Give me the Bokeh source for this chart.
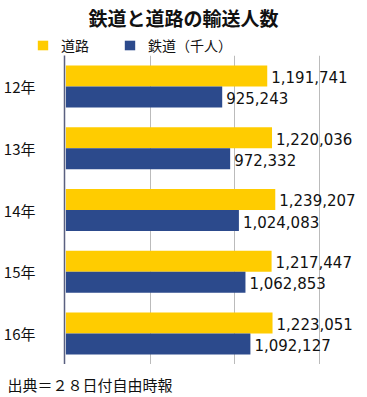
from bokeh.plotting import figure
from bokeh.layouts import column
from bokeh.models import (ColumnDataSource, FactorRange, Range1d, FixedTicker, Label,
                          Legend, LegendItem)
from bokeh.transform import dodge
from bokeh.core.properties import value
from bokeh.embed import file_html
from bokeh.resources import INLINE

years = ["12年", "13年", "14年", "15年", "16年"]
road = [1191741, 1220036, 1239207, 1217447, 1223051]
rail = [925243, 972332, 1024083, 1062853, 1092127]
road_label = "道路"
rail_label = "鉄道（千人）"
title_text = "鉄道と道路の輸送人数"
source_text = "出典＝２８日付自由時報"
grid_ticks = [500000, 1000000, 1500000]

FONT = "Noto Sans CJK JP"
NUMFONT = "DejaVu Sans"
YELLOW = "#FFCC00"
BLUE = "#2C4A8C"
W = 367


def blank(h):
    f = figure(width=W, height=h, output_backend="svg", toolbar_location=None,
               x_range=Range1d(0, W), y_range=Range1d(0, h),
               x_axis_location=None, y_axis_location=None,
               min_border_left=0, min_border_right=0, min_border_top=0, min_border_bottom=0)
    f.grid.visible = False
    f.outline_line_color = None
    return f


# header: title + legend
hdr = blank(55)
hdr.add_layout(Label(x=183, y=38, x_units="screen", y_units="screen", text=title_text,
                     text_align="center", text_baseline="middle", text_font=FONT,
                     text_font_size="19px", text_font_style="bold", text_color="#111111"))
d_road = hdr.hbar(y=[0], left=[0], right=[0], height=0, color=YELLOW, line_color=None)
d_rail = hdr.hbar(y=[0], left=[0], right=[0], height=0, color=BLUE, line_color=None)
legend = Legend(items=[LegendItem(label=road_label, renderers=[d_road]),
                       LegendItem(label=rail_label, renderers=[d_rail])],
                orientation="horizontal", location=(36, 0),
                glyph_width=13, glyph_height=12, label_standoff=12, spacing=34,
                padding=0, margin=0, border_line_color=None, background_fill_alpha=0,
                label_text_font=FONT, label_text_font_size="14px", label_text_color="#111111")
hdr.add_layout(legend, "center")

# main chart
src = ColumnDataSource(dict(
    year=years, road=road, rail=rail,
    road_txt=[f"{v:,}" for v in road],
    rail_txt=[f"{v:,}" for v in rail],
))

p = figure(width=W, height=309, output_backend="svg", toolbar_location=None,
           y_range=FactorRange(factors=list(reversed(years)), range_padding=0),
           x_range=Range1d(-8000, 1785000),
           min_border_left=62, min_border_right=0, min_border_top=0, min_border_bottom=0)
p.outline_line_color = None

p.hbar(y=dodge("year", 0.17, range=p.y_range), left=0, right="road", height=0.34,
       color=YELLOW, line_color=None, source=src)
p.hbar(y=dodge("year", -0.17, range=p.y_range), left=0, right="rail", height=0.34,
       color=BLUE, line_color=None, source=src)

p.text(x="road", y=dodge("year", 0.17, range=p.y_range), text="road_txt", source=src,
       x_offset=4, y_offset=1, text_baseline="middle", text_align="left",
       text_font=value(NUMFONT), text_font_size="15px", text_color="#111111")
p.text(x="rail", y=dodge("year", -0.17, range=p.y_range), text="rail_txt", source=src,
       x_offset=4, y_offset=1, text_baseline="middle", text_align="left",
       text_font=value(NUMFONT), text_font_size="15px", text_color="#111111")

p.xaxis.visible = False
p.xaxis.ticker = FixedTicker(ticks=grid_ticks)
p.xgrid.ticker = FixedTicker(ticks=grid_ticks)
p.xgrid.grid_line_color = "#BBBBBB"
p.ygrid.grid_line_color = None

p.yaxis.axis_line_color = "#5A6080"
p.yaxis.axis_line_width = 1.5
p.yaxis.major_tick_line_color = None
p.yaxis.minor_tick_line_color = None
p.yaxis.major_label_standoff = 23
p.yaxis.major_label_text_font = FONT
p.yaxis.major_label_text_font_size = "15px"
p.yaxis.major_label_text_color = "#111111"

# footer: source
ftr = blank(33)
ftr.add_layout(Label(x=7, y=13, x_units="screen", y_units="screen", text=source_text,
                     text_align="left", text_baseline="middle", text_font=FONT,
                     text_font_size="15px", text_color="#111111"))

layout = column(column(hdr), p, column(ftr), spacing=0)
open("out.html", "w").write(file_html(layout, INLINE))
